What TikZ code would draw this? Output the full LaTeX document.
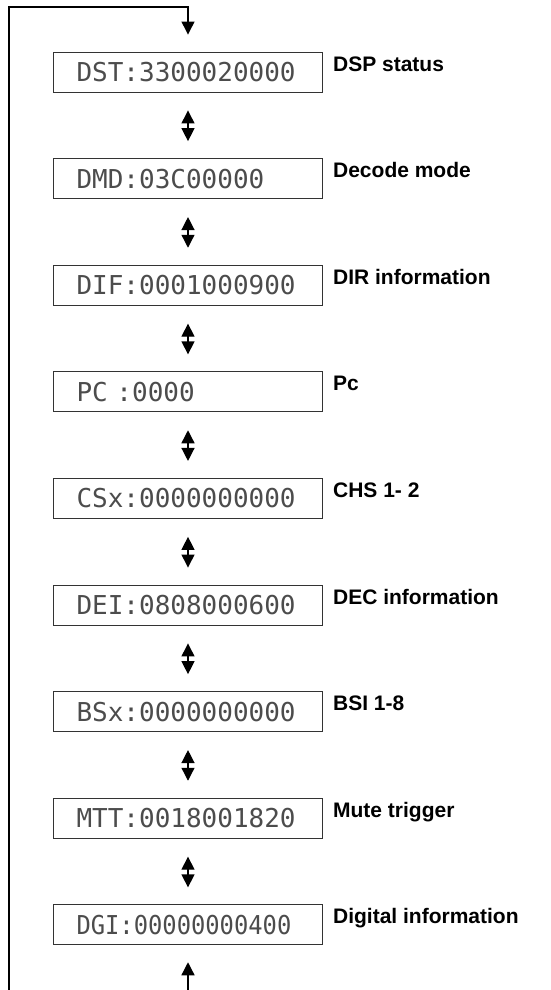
\documentclass[tikz,border=0pt]{standalone}
\usepackage{fontspec}
\setmainfont{Liberation Sans}
\setmonofont{DejaVu Sans Mono}
\usetikzlibrary{arrows.meta,positioning}

\begin{document}
\begin{tikzpicture}[x=1pt,y=-1pt,
    lcdbox/.style={draw=black!80, line width=0.9pt, text width=223pt, inner xsep=23pt,
      minimum height=40pt, align=left, font=\fontsize{26}{28}\selectfont\ttfamily, text=black!70},
    lbl/.style={font=\fontsize{21}{24}\selectfont\bfseries, anchor=base west, inner sep=0pt},
    flow/.style={line width=1.3pt, -{Triangle[length=13pt,width=13pt]}},
    both/.style={line width=1.3pt, {Triangle[length=13pt,width=13pt]}-{Triangle[length=13pt,width=13pt]}}]
    \useasboundingbox (0,0) rectangle (550,990);

    % Display boxes
    \foreach \txt/\lab [count=\i] in {DST:3300020000/DSP status, DMD:03C00000/Decode mode,
        DIF:0001000900/DIR information, PC :0000/Pc, CSx:0000000000/CHS 1- 2,
        DEI:0808000600/DEC information, BSx:0000000000/BSI 1-8, MTT:0018001820/Mute trigger,
        \scalebox{0.915}[1]{DGI:00000000400}/Digital information} {
      \node[lcdbox] (b\i) at (188,{72+106.6*(\i-1)}) {\txt};
      \node[lbl] (l\i) at ([xshift=10pt,yshift=1pt]b\i.east) {\lab};
    }

    % Arrows between boxes
    \foreach \i [evaluate=\i as \j using int(\i+1)] in {1,...,8}
      \draw[both] ([yshift=-18pt]b\i.south) -- ([yshift=17pt]b\j.north);

    % Loop back
    \coordinate (loopin) at (9,990);
    \coordinate (loopout) at (188,990);
    \draw[flow] (loopin) -- (9,7) -| ([yshift=17pt]b1.north);
    \draw[flow] (loopout) -- ([yshift=-17pt]b9.south);
\end{tikzpicture}
\end{document}
